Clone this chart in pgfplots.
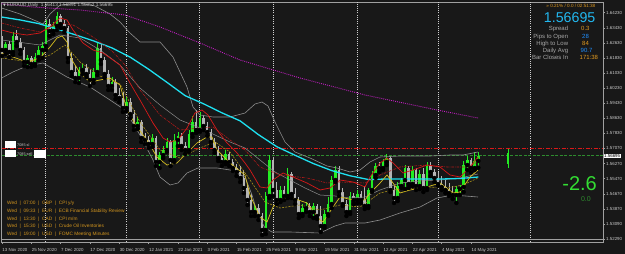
\documentclass[border=0pt]{standalone}
\usepackage{pgfplots}
\pgfplotsset{compat=1.18}
\usepackage{pgfplotstable}
\usepackage{fontspec}
\setmainfont{Liberation Sans}
\newfontfamily\djv{DejaVu Sans}
\definecolor{bg}{HTML}{181818}
\definecolor{frame}{HTML}{A0A0A0}
\definecolor{lbl}{HTML}{C8C8C8}
\definecolor{upc}{HTML}{22EE22}
\definecolor{dnc}{HTML}{B4B4B4}
\definecolor{cyanma}{HTML}{1EE0F0}
\definecolor{magma}{HTML}{C21FC2}
\definecolor{redma}{HTML}{D81818}
\definecolor{redma2}{HTML}{B01818}
\definecolor{yelma}{HTML}{D8C020}
\definecolor{yelma2}{HTML}{A89018}
\definecolor{bbg}{HTML}{8C8C8C}
\definecolor{orng}{HTML}{E09A20}
\definecolor{blu}{HTML}{2090FF}
\definecolor{bigcy}{HTML}{22B8F0}
\definecolor{evt}{HTML}{D4961E}
\definecolor{bidg}{HTML}{2E8B2E}
\definecolor{sepc}{HTML}{D0D0D0}
\definecolor{dlbl}{HTML}{A8A8A8}
\definecolor{siggreen}{HTML}{33DD33}

\pgfplotstableread{
i o h l c
1 1.62263 1.62685 1.62052 1.62579
3 1.62157 1.63212 1.61999 1.63001
7 1.61630 1.61999 1.61366 1.61841
9 1.61524 1.62104 1.61419 1.61893
10 1.61893 1.62474 1.61735 1.62263
11 1.62263 1.62685 1.61841 1.62474
12 1.62474 1.63845 1.62263 1.63634
14 1.63265 1.63740 1.63107 1.63529
15 1.63529 1.64267 1.63318 1.64056
21 1.60786 1.61366 1.60522 1.61208
22 1.61208 1.61524 1.60997 1.61313
25 1.60680 1.61313 1.60522 1.61102
26 1.61102 1.62685 1.60944 1.62368
30 1.60364 1.60838 1.60153 1.60575
34 1.59203 1.59783 1.59045 1.59520
37 1.58254 1.58728 1.58095 1.58465
41 1.57304 1.57832 1.57146 1.57621
43 1.56355 1.56882 1.56038 1.56724
44 1.56724 1.57199 1.56566 1.56988
45 1.56988 1.57621 1.56882 1.57410
47 1.56460 1.57832 1.56355 1.57515
48 1.57515 1.57937 1.57199 1.57726
51 1.56988 1.58043 1.56882 1.57832
52 1.57832 1.58781 1.57673 1.58465
54 1.58043 1.58992 1.57937 1.58676
61 1.56355 1.56988 1.56249 1.56777
69 1.53717 1.54139 1.53506 1.53928
72 1.52768 1.54772 1.52557 1.54561
73 1.54561 1.56724 1.54456 1.56460
76 1.54350 1.55089 1.54245 1.54878
78 1.54561 1.56038 1.54456 1.55722
82 1.53612 1.54139 1.53506 1.53928
83 1.53928 1.54245 1.53717 1.54034
85 1.53717 1.54192 1.53401 1.54034
88 1.52979 1.53823 1.52873 1.53612
89 1.53612 1.54508 1.53506 1.54139
90 1.54139 1.55616 1.53928 1.55405
91 1.55405 1.56144 1.55300 1.55933
95 1.53717 1.54772 1.53612 1.54561
97 1.54350 1.54878 1.54192 1.54667
100 1.54034 1.54983 1.53928 1.54878
101 1.54878 1.55880 1.54772 1.55669
102 1.55669 1.56302 1.55511 1.56144
104 1.56038 1.56513 1.55933 1.56355
105 1.56355 1.56777 1.56196 1.56566
108 1.54456 1.55300 1.54297 1.55089
109 1.55089 1.55511 1.54983 1.55405
110 1.55405 1.56196 1.54930 1.56038
112 1.55194 1.56144 1.55089 1.55933
114 1.55089 1.55933 1.54930 1.55722
116 1.54983 1.56355 1.54878 1.56144
124 1.54614 1.55089 1.54192 1.54930
125 1.54930 1.55141 1.54614 1.55036
126 1.55036 1.56407 1.54772 1.56196
127 1.56196 1.56671 1.55933 1.56460
129 1.56038 1.56882 1.55933 1.56407
130 1.56413 1.56891 1.56052 1.56695
}\upbars

\pgfplotstableread{
i o h l c
0 1.62685 1.63001 1.61946 1.62263
2 1.62579 1.62737 1.61893 1.62157
4 1.63001 1.63318 1.62474 1.62685
5 1.62685 1.62896 1.62052 1.62263
6 1.62263 1.62421 1.61419 1.61630
8 1.61841 1.61946 1.61366 1.61524
13 1.63634 1.63898 1.63001 1.63265
16 1.64056 1.64162 1.63423 1.63634
17 1.63634 1.63845 1.63212 1.63423
18 1.63423 1.63529 1.61630 1.61841
19 1.61841 1.62157 1.60891 1.61102
20 1.61102 1.61419 1.60575 1.60786
23 1.61313 1.61524 1.60838 1.60997
24 1.60997 1.61208 1.60364 1.60680
27 1.62368 1.62579 1.61524 1.61735
28 1.61735 1.61893 1.60786 1.60997
29 1.60997 1.61208 1.60153 1.60364
31 1.60575 1.60733 1.59678 1.59889
32 1.59889 1.60258 1.59520 1.59731
33 1.59731 1.60047 1.58992 1.59203
35 1.59520 1.59731 1.58676 1.58887
36 1.58887 1.59098 1.58043 1.58254
38 1.58465 1.58570 1.57410 1.57621
39 1.57621 1.57884 1.57304 1.57515
40 1.57515 1.57726 1.57093 1.57304
42 1.57621 1.57726 1.56144 1.56355
46 1.57410 1.57515 1.56144 1.56460
49 1.57726 1.57884 1.56988 1.57199
50 1.57199 1.57410 1.56777 1.56988
53 1.58465 1.59098 1.57884 1.58043
55 1.58676 1.58834 1.58043 1.58254
56 1.58254 1.58465 1.57726 1.57937
57 1.57937 1.58095 1.57199 1.57410
58 1.57410 1.57621 1.56829 1.56988
59 1.56988 1.57199 1.56407 1.56566
60 1.56566 1.56777 1.56144 1.56355
62 1.56777 1.56882 1.56144 1.56355
63 1.56355 1.56513 1.55880 1.56038
64 1.56038 1.56249 1.55616 1.55827
65 1.55827 1.56144 1.55300 1.55511
66 1.55511 1.55933 1.54719 1.54983
67 1.54983 1.55141 1.54086 1.54350
68 1.54350 1.54667 1.53506 1.53717
70 1.53928 1.54139 1.53295 1.53506
71 1.53506 1.53664 1.52504 1.52768
74 1.56460 1.56618 1.54561 1.54878
75 1.54878 1.55300 1.54139 1.54350
77 1.54878 1.55089 1.54350 1.54561
79 1.55722 1.55827 1.54456 1.54667
80 1.54667 1.54983 1.54139 1.54350
81 1.54350 1.54508 1.53401 1.53612
84 1.54034 1.54192 1.53506 1.53717
86 1.54034 1.54139 1.53348 1.53506
87 1.53506 1.54034 1.52662 1.52979
92 1.55933 1.56144 1.54561 1.54772
93 1.54772 1.54983 1.54034 1.54139
94 1.54139 1.54350 1.53506 1.53717
96 1.54561 1.54719 1.54139 1.54350
98 1.54667 1.54825 1.54192 1.54350
99 1.54350 1.55089 1.53875 1.54034
103 1.56144 1.56355 1.55827 1.56038
106 1.56566 1.56671 1.54772 1.54878
107 1.54878 1.55089 1.54192 1.54456
111 1.56038 1.56144 1.54983 1.55194
113 1.55933 1.56038 1.54878 1.55089
115 1.55722 1.56038 1.54772 1.54983
117 1.56144 1.56355 1.55616 1.55827
118 1.55827 1.55985 1.55300 1.55511
119 1.55511 1.55827 1.55089 1.55194
120 1.55194 1.55616 1.54878 1.55036
121 1.55036 1.55405 1.54719 1.54878
122 1.54878 1.55247 1.54561 1.54719
123 1.54719 1.55089 1.54403 1.54614
128 1.56460 1.56566 1.55827 1.56038
}\dnbars

\begin{document}
\begin{tikzpicture}
\path[use as bounding box, fill=bg] (0,0) rectangle (625bp,254bp);
\begin{axis}[
  at={(1.63bp,12bp)}, anchor=south west,
  scale only axis, width=601.4bp, height=240bp,
  xmin=-0.1, xmax=164.03, ymin=1.521345, ymax=1.647945,
  axis line style={draw=frame, line width=0.6bp},
  tick align=outside, major tick length=2bp,
  xtick pos=left, ytick pos=right, yticklabel pos=right,
  tick style={draw=frame, line width=0.5bp},
  ticklabel style={font=\fontsize{4.4bp}{5bp}\selectfont, text=lbl},
  xtick={0,8,...,128},
  xticklabels={13 Nov 2020,25 Nov 2020,7 Dec 2020,17 Dec 2020,30 Dec 2020,12 Jan 2021,22 Jan 2021,3 Feb 2021,15 Feb 2021,25 Feb 2021,9 Mar 2021,19 Mar 2021,31 Mar 2021,12 Apr 2021,22 Apr 2021,4 May 2021,14 May 2021},
  xticklabel style={anchor=north west, inner xsep=0pt, xshift=0.3bp, yshift=-0.5bp},
  ytick={1.64230,1.63434,1.62638,1.61842,1.61046,1.60250,1.59454,1.58658,1.57862,1.56270,1.55474,1.54678,1.53882,1.53086,1.52290},
  yticklabels={1.64230,1.63430,1.62630,1.61830,1.61030,1.60230,1.59430,1.58630,1.57830,1.56270,1.55470,1.54670,1.53870,1.53090,1.52290},
  extra y ticks={1.57070}, extra y tick labels={1.57070},
  yticklabel style={inner xsep=1bp},
  /pgf/number format/assume math mode=true,
]
% month separators
\foreach \s in {11.7,33.8,53.9,74.05,97,119.1,144.3}{
  \edef\temp{\noexpand\draw[sepc, line width=0.5bp, dash pattern=on 0.8bp off 1.4bp] (axis cs:\s,1.5213) -- (axis cs:\s,1.648);}
  \temp
}
% horizontal lines
\addplot[redma, line width=0.8bp, dash pattern=on 4bp off 1.5bp on 1bp off 1.5bp] coordinates {(-0.1,1.57070) (164.03,1.57070)};
\addplot[bidg, line width=0.9bp, dash pattern=on 3bp off 1.5bp] coordinates {(-0.1,1.56695) (164.03,1.56695)};
% candles: wicks
\addplot[only marks, mark=none, forget plot, error bars/.cd, y dir=plus, y explicit, error mark=none,
  error bar style={draw=upc, line width=0.7bp, solid}]
  table[x=i, y=l, y error expr=\thisrow{h}-\thisrow{l}] {\upbars};
\addplot[only marks, mark=none, forget plot, error bars/.cd, y dir=plus, y explicit, error mark=none,
  error bar style={draw=dnc, line width=0.7bp, solid}]
  table[x=i, y=l, y error expr=\thisrow{h}-\thisrow{l}] {\dnbars};
% candles: bodies
\addplot[only marks, mark=none, forget plot, error bars/.cd, y dir=plus, y explicit, error mark=none,
  error bar style={draw=upc, line width=2.6bp, solid}]
  table[x=i, y=o, y error expr=\thisrow{c}-\thisrow{o}] {\upbars};
\addplot[only marks, mark=none, forget plot, error bars/.cd, y dir=plus, y explicit, error mark=none,
  error bar style={draw=dnc, line width=2.6bp, solid}]
  table[x=i, y=c, y error expr=\thisrow{o}-\thisrow{c}] {\dnbars};
% future bar
\addplot[upc, line width=0.7bp] coordinates {(138.1,1.57040) (138.1,1.56038)};
\addplot[upc, line width=1.8bp] coordinates {(138.1,1.56829) (138.1,1.56249)};
% Bollinger-like gray bands
\addplot[bbg, line width=0.6bp] coordinates {(-0.1,1.64478) (4.91,1.64162) (11.19,1.63634) (13.1,1.64162) (15.83,1.64636) (21.29,1.64742) (25.38,1.64584) (29.48,1.64162) (32.21,1.63740) (34.93,1.63159) (37.66,1.62685) (43.12,1.62685) (46.67,1.61893) (50.49,1.60311) (52.13,1.59256) (54.04,1.58834) (57.59,1.58728) (62.23,1.58728) (66.32,1.58939) (69.05,1.59414) (70.96,1.59520) (72.6,1.59309) (74.51,1.58465) (77.24,1.57410) (79.97,1.56882) (84.06,1.56566) (88.7,1.56144) (91.43,1.56038) (94.98,1.55827) (97.71,1.55933) (100.44,1.56355) (103.17,1.56618) (108.62,1.56671) (116.81,1.56671) (122.27,1.56724) (125.82,1.56724) (129.91,1.56882)};
\addplot[bbg, line width=0.5bp] coordinates {(-0.1,1.62790) (10.37,1.62526) (15.83,1.63054) (21.29,1.62896) (26.75,1.62263) (32.21,1.61471) (37.66,1.60258) (43.12,1.59361) (48.58,1.58570) (54.04,1.58148) (58.13,1.57779) (62.23,1.57410) (66.32,1.57093) (70.41,1.56460) (74.51,1.55827) (78.6,1.55405) (82.7,1.54983) (86.79,1.54614) (90.88,1.54561) (94.98,1.54456) (99.07,1.54508) (103.17,1.54878) (108.62,1.55247) (114.08,1.55352) (119.54,1.55405) (125,1.55511) (129.91,1.55722)};
\addplot[bbg, line width=0.6bp] coordinates {(-0.1,1.60786) (3.0,1.61102) (6.82,1.61419) (11.19,1.61577) (14.47,1.61208) (17.74,1.60838) (24.02,1.60311) (29.48,1.59625) (33.57,1.59098) (37.66,1.57779) (41.21,1.56460) (43.12,1.55563) (45.85,1.55141) (48.03,1.55247) (50.49,1.55774) (53.49,1.56038) (58.68,1.56038) (62.23,1.55933) (66.32,1.55563) (68.23,1.54614) (69.87,1.53559) (71.78,1.52873) (73.69,1.52662) (78.6,1.52662) (86.79,1.52609) (90.88,1.52979) (93.61,1.53137) (99.07,1.53137) (103.17,1.53295) (108.62,1.53664) (114.08,1.53981) (118.72,1.54456) (123.09,1.54614) (129.91,1.54508)};
% magenta slow MA
\addplot[magma, line width=0.9bp, dash pattern=on 0.9bp off 1.1bp] coordinates {(-0.1,1.64700) (8.46,1.64531) (21.29,1.64372) (33.57,1.64109) (43.12,1.63476) (54.04,1.62632) (64.96,1.61735) (81.33,1.60786) (99.07,1.59889) (118.72,1.59098) (129.91,1.58676)};
% cyan MA
\addplot[cyanma, line width=1.3bp] coordinates {(-0.1,1.64003) (5,1.63845) (10,1.63655) (15,1.63370) (20,1.63064) (25,1.62743) (30,1.62373) (35,1.61883) (40,1.61250) (45,1.60559) (50,1.59852) (55,1.59425) (60,1.58950) (65,1.58523) (70,1.57795) (75,1.57162) (80,1.56708) (85,1.56270) (90,1.55901) (95,1.55627) (100,1.55431) (105,1.55458) (110,1.55458) (115,1.55458) (120,1.55458) (125,1.55484) (130,1.55563)};
% red MAs
\addplot[redma2, line width=0.6bp, dash pattern=on 2.5bp off 1bp on 0.8bp off 1bp] coordinates {(-0.1,1.63687) (4.91,1.63423) (10.37,1.63212) (15.83,1.63687) (19.38,1.63581) (23.2,1.63159) (26.75,1.62685) (30.29,1.62157) (33.57,1.61471) (37.66,1.60153) (43.12,1.58834) (48.58,1.58043) (54.04,1.58148) (57.59,1.58201) (62.23,1.57515) (66.32,1.56988) (70.41,1.56091) (75.87,1.55669) (83.24,1.55511) (88.7,1.55247) (92.25,1.55300) (99.07,1.55247) (103.17,1.55669) (108.62,1.56091) (115.99,1.56196) (121.45,1.56091) (126.91,1.56091) (129.91,1.56355)};
\addplot[redma, line width=0.7bp] coordinates {(-0.1,1.63318) (3.0,1.63159) (6.82,1.63054) (10.37,1.63159) (13.1,1.63476) (15.83,1.63951) (17.74,1.63845) (19.38,1.63318) (22.11,1.62632) (24.84,1.62263) (27.57,1.62104) (30.29,1.61735) (32.21,1.61471) (34.93,1.60522) (37.66,1.59625) (41.21,1.58412) (43.94,1.57621) (45.85,1.57410) (48.03,1.57515) (50.49,1.58148) (52.67,1.58939) (54.59,1.59098) (56.22,1.58834) (58.68,1.58043) (61.41,1.57357) (64.14,1.56829) (66.32,1.56302) (67.69,1.55933) (70.41,1.55036) (72.33,1.54983) (73.96,1.55405) (76.69,1.55774) (79.42,1.55563) (83.24,1.55247) (86.79,1.54878) (89.52,1.54983) (92.25,1.55405) (95.8,1.55300) (99.07,1.55036) (100.44,1.55563) (103.17,1.56302) (105.08,1.56566) (106.71,1.56302) (109.44,1.55774) (112.17,1.55933) (115.99,1.56196) (119.54,1.56091) (122.27,1.55669) (125,1.55563) (127.73,1.56091) (129.91,1.56618)};
% yellow MAs
\addplot[yelma2, line width=0.6bp, dash pattern=on 2bp off 1.2bp] coordinates {(-0.1,1.61841) (7.64,1.61630) (13.1,1.61999) (17.19,1.62526) (21.29,1.61630) (26.75,1.60891) (32.21,1.60469) (37.66,1.58465) (43.12,1.56988) (48.58,1.56566) (54.04,1.57093) (58.13,1.57410) (62.23,1.56882) (67.69,1.55405) (71.78,1.54245) (75.87,1.53928) (81.33,1.54086) (86.79,1.53823) (92.25,1.54086) (97.71,1.53981) (103.17,1.54719) (106.71,1.54878) (115.99,1.55036) (121.45,1.54983) (125.82,1.55141) (129.91,1.55511)};
\addplot[yelma, line width=0.7bp] coordinates {(-0.1,1.62104) (3.0,1.61893) (6.82,1.61630) (10.37,1.61841) (13.1,1.62421) (15.01,1.62896) (16.38,1.63001) (17.74,1.62685) (19.1,1.61735) (21.29,1.61049) (24.02,1.60575) (26.75,1.60680) (29.48,1.60786) (32.21,1.60416) (34.12,1.59098) (36.84,1.58201) (39.57,1.57515) (42.3,1.56618) (45.03,1.56196) (47.76,1.56302) (50.49,1.56829) (53.22,1.57357) (55.95,1.57673) (57.31,1.57673) (58.68,1.56988) (62.23,1.56302) (66.32,1.55669) (67.69,1.54614) (70.41,1.53453) (72.33,1.53190) (73.96,1.53981) (75.87,1.54350) (78.6,1.54508) (83.24,1.54192) (86.79,1.53295) (87.61,1.53190) (90.34,1.53981) (92.25,1.54508) (95.8,1.54350) (99.07,1.54350) (100.44,1.54719) (103.17,1.55247) (105.08,1.55669) (106.71,1.55247) (108.62,1.54719) (111.35,1.54878) (115.99,1.55036) (119.54,1.55247) (123.09,1.54719) (125,1.54772) (127.73,1.55563) (129.91,1.55933)};
\end{axis}
% second bottom frame line
\draw[frame, line width=0.5bp] (1.63bp,14.3bp) -- (603bp,14.3bp);
% title
\node[anchor=base west, inner sep=0pt, text=lbl, font=\fontsize{4.7bp}{5bp}\selectfont] at (3bp,247bp) {{\djv\fontsize{3.6bp}{4bp}\selectfont ▼}\,EURAUD,Daily\ \ 1.56413 1.56891 1.56052 1.56695};
% info panel
\node[anchor=base east, inner sep=0pt, text=orng, font=\fontsize{4.6bp}{5bp}\selectfont] at (595.5bp,246bp) {» 0.21\% / 0.0 / 02:51:38};
\node[anchor=base east, inner sep=0pt, text=bigcy, font=\fontsize{14.2bp}{15bp}\selectfont] at (595.5bp,231bp) {1.56695};
\begin{scope}[every node/.style={inner sep=0pt, font=\fontsize{6bp}{7bp}\selectfont}]
\node[anchor=base east, text=dlbl] at (568.3bp,223bp) {Spread};
\node[anchor=base east, text=dlbl] at (568.3bp,215.8bp) {Pips to Open};
\node[anchor=base east, text=dlbl] at (568.3bp,208.6bp) {High to Low};
\node[anchor=base east, text=dlbl] at (568.3bp,201.1bp) {Daily Avg};
\node[anchor=base east, text=dlbl] at (568.3bp,194.1bp) {Bar Closes In};
\node[anchor=base west, text=orng] at (581bp,223bp) {0.3};
\node[anchor=base west, text=blu] at (582bp,215.8bp) {28};
\node[anchor=base west, text=orng] at (582bp,208.6bp) {84};
\node[anchor=base west, text=blu] at (580.5bp,201.1bp) {90.7};
\node[anchor=base west, text=orng] at (579.5bp,194.1bp) {171:38};
\end{scope}
% signal value
\node[anchor=base east, inner sep=0pt, text=siggreen, font=\fontsize{20bp}{22bp}\selectfont] at (597bp,63bp) {-2.6};
\node[anchor=base east, inner sep=0pt, text=bidg, font=\fontsize{7bp}{8bp}\selectfont] at (591bp,52bp) {0.0};
% small labels at left
\fill[white] (5bp,106bp) rectangle (16bp,113bp);
\fill[white] (5bp,97bp) rectangle (16bp,104bp);
\fill[white] (34bp,96bp) rectangle (46bp,104bp);
\node[anchor=base west, inner sep=0pt, text=lbl, font=\fontsize{3.8bp}{4bp}\selectfont] at (17bp,107.2bp) {7085 sl};
\node[anchor=base west, inner sep=0pt, text=lbl, font=\fontsize{3.8bp}{4bp}\selectfont] at (17bp,98.3bp) {7085 sell};
% current price box
\node[anchor=west, fill=white, text=black, inner sep=0.5bp, font=\fontsize{4.4bp}{5bp}\selectfont] at (603.5bp,98.4bp) {1.56695};
% event list
\begin{scope}[every node/.style={anchor=base west, inner sep=0pt, text=evt, font=\fontsize{4.8bp}{5bp}\selectfont}]
\node at (7bp,49bp) {Wed \ |\ \ 07:00\ \ |\ \ GBP\ \ |\ \ CPI y/y};
\node at (7bp,41.3bp) {Wed \ |\ \ 09:33\ \ |\ \ EUR\ \ |\ \ ECB Financial Stability Review};
\node at (7bp,33.6bp) {Wed \ |\ \ 13:30\ \ |\ \ CAD\ \ |\ \ CPI m/m};
\node at (7bp,26.3bp) {Wed \ |\ \ 15:30\ \ |\ \ USD\ \ |\ \ Crude Oil Inventories};
\node at (7bp,19bp) {Wed \ |\ \ 19:00\ \ |\ \ USD\ \ |\ \ FOMC Meeting Minutes};
\end{scope}
\end{tikzpicture}
\end{document}
